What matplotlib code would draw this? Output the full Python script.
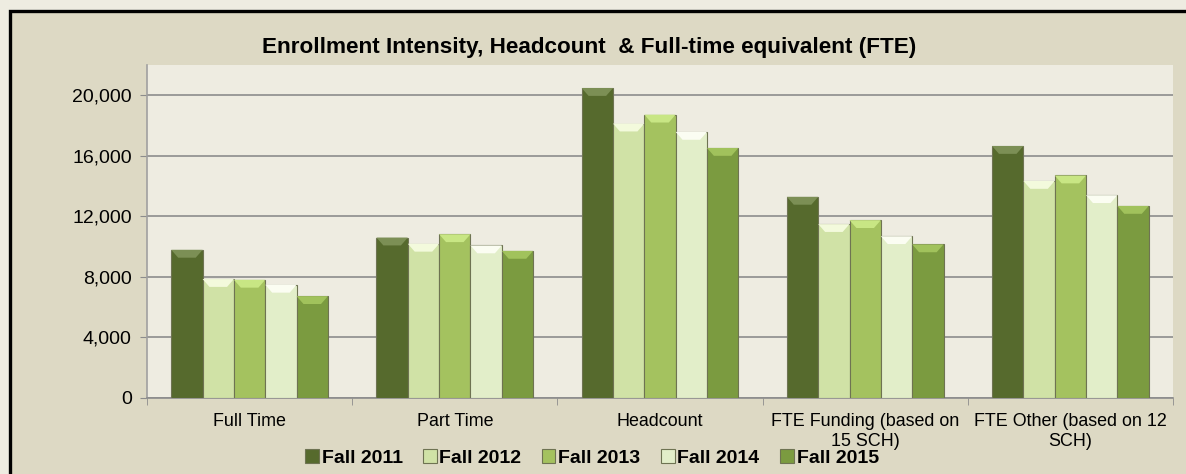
import matplotlib.pyplot as plt
import numpy as np
from matplotlib.patches import Rectangle, Polygon
from matplotlib.ticker import FuncFormatter

plt.rcParams['font.family'] = ['Liberation Sans', 'DejaVu Sans']

# ---- data ----
categories = ['Full Time', 'Part Time', 'Headcount',
              'FTE Funding (based on\n15 SCH)', 'FTE Other (based on 12\nSCH)']
series = ['Fall 2011', 'Fall 2012', 'Fall 2013', 'Fall 2014', 'Fall 2015']
fall_2011 = [9790, 10600, 20480, 13290, 16650]
fall_2012 = [7860, 10190, 18130, 11490, 14340]
fall_2013 = [7810, 10820, 18720, 11750, 14700]
fall_2014 = [7480, 10080, 17580, 10690, 13400]
fall_2015 = [6730, 9720, 16520, 10150, 12690]
values = [fall_2011, fall_2012, fall_2013, fall_2014, fall_2015]

body_colors = ['#566A2D', '#D0E2A6', '#A4C25F', '#E2EEC9', '#7B9B40']
top_colors = ['#7C8F55', '#F3FADC', '#C8E684', '#FBFDF2', '#A1C25C']

outer_bg = '#EEECE1'
frame_bg = '#DDD9C4'

fig = plt.figure(figsize=(11.86, 4.74), dpi=100)
fig.patch.set_facecolor(outer_bg)

# chart frame with thick black border (cut off at right/bottom)
frame = Rectangle((9.5 / 1186, -0.05), 1.2, (474 - 10.5) / 474 + 0.05,
                  transform=fig.transFigure, facecolor=frame_bg,
                  edgecolor='black', linewidth=2.4, zorder=-10)
fig.patches.append(frame)

ax = fig.add_axes([147 / 1186, (474 - 398) / 474, (1173 - 147) / 1186, (398 - 65) / 474])
ax.set_facecolor(outer_bg)

n = len(series)
w = 1 / (n + 1.55)
x = np.arange(len(categories))
bev = 520      # bevel height in data units
inset = w * 0.22

for j, (name, vals) in enumerate(zip(series, values)):
    xs = x + (j - (n - 1) / 2) * w
    ax.bar(xs, vals, width=w, color=body_colors[j], edgecolor='#6E7352',
           linewidth=0.8, label=name, zorder=3)
    for xi, v in zip(xs, vals):
        poly = Polygon([(xi - w / 2, v), (xi + w / 2, v),
                        (xi + w / 2 - inset, v - bev), (xi - w / 2 + inset, v - bev)],
                       closed=True, facecolor=top_colors[j], edgecolor='none', zorder=4)
        ax.add_patch(poly)

ax.set_xlim(-0.5, len(categories) - 0.5)
ax.set_ylim(0, 22000)
ax.set_yticks(np.arange(0, 20001, 4000))
ax.yaxis.set_major_formatter(FuncFormatter(lambda v, p: f'{int(v):,}'))
ax.grid(axis='y', color='#8C8C8C', linewidth=1.2, zorder=1)
ax.set_axisbelow(True)

ax.set_xticks(x)
ax.set_xticklabels(categories, fontsize=12.9, linespacing=1.22)
ax.set_xticks(np.arange(-0.5, len(categories), 1), minor=True)
ax.tick_params(axis='x', which='major', length=0, pad=11)
ax.tick_params(axis='x', which='minor', length=5, color='#8C8C8C')
ax.tick_params(axis='y', length=5, color='#8C8C8C', labelsize=14, pad=6)

for s in ['top', 'right']:
    ax.spines[s].set_visible(False)
ax.spines['left'].set_color('#A0A0A0')
ax.spines['bottom'].set_color('#8C8C8C')
ax.spines['left'].set_linewidth(1.2)
ax.spines['bottom'].set_linewidth(1.2)

fig.text(0.497, (474 - 47) / 474, 'Enrollment Intensity, Headcount  & Full-time equivalent (FTE)',
         ha='center', va='center', fontsize=16.2, fontweight='bold')

handles, labels = ax.get_legend_handles_labels()
fig.legend(handles, labels, loc='center', bbox_to_anchor=(0.499, (474 - 458) / 474),
           ncol=5, frameon=False, prop={'weight': 'bold', 'size': 14},
           handlelength=0.7, handleheight=0.7, handletextpad=0.15,
           columnspacing=1.05, borderpad=0)

fig.savefig('out.png', dpi=100, facecolor=fig.get_facecolor())
